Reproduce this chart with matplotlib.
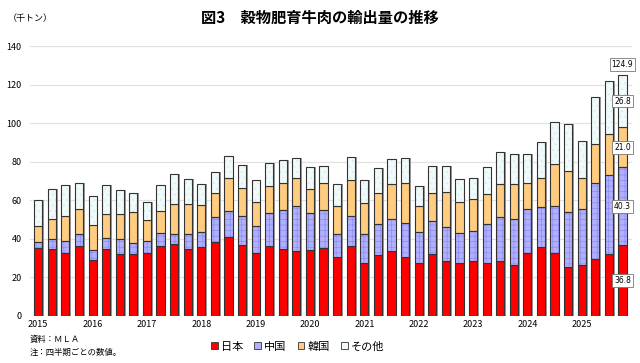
import numpy as np
import matplotlib
matplotlib.use("Agg")
import matplotlib.pyplot as plt
from matplotlib.patches import Patch

plt.rcParams['font.family'] = ['Noto Sans CJK JP', 'DejaVu Sans']
plt.rcParams['hatch.linewidth'] = 0.5

# quarterly values, 2015 Q1 .. 2025 Q4 (thousand tonnes)
years = [str(y) for y in range(2015, 2026)]
japan = [35.5, 34.7, 32.8, 36.1, 28.8, 34.7, 32.1, 32.4, 32.8, 36.1, 37.6, 34.7,
         35.7, 38.6, 40.9, 36.9, 32.6, 36.1, 35.0, 33.5, 34.0, 35.5, 30.4, 36.2,
         27.5, 31.4, 33.5, 30.6, 27.5, 32.1, 28.3, 27.6, 28.5, 27.5, 28.3, 26.4,
         32.8, 35.7, 32.6, 25.3, 26.2, 29.8, 32.3, 36.8]
china = [3.0, 5.1, 6.3, 6.6, 5.2, 5.5, 7.6, 5.5, 6.3, 7.2, 5.0, 8.0,
         8.1, 12.9, 13.7, 14.9, 14.3, 17.5, 20.1, 23.7, 19.6, 19.6, 12.3, 15.8,
         15.2, 16.3, 17.0, 17.6, 16.3, 17.0, 17.9, 15.5, 15.6, 20.1, 22.9, 23.9,
         22.7, 21.0, 24.7, 28.5, 29.2, 39.4, 40.7, 40.3]
korea = [8.0, 10.5, 12.9, 12.9, 13.4, 12.5, 13.3, 16.3, 10.5, 11.3, 15.6, 15.5,
         13.9, 12.4, 16.8, 14.6, 12.3, 13.9, 13.9, 14.4, 12.5, 14.1, 14.5, 18.7,
         16.0, 16.2, 18.2, 20.8, 13.4, 14.8, 18.3, 16.1, 16.8, 15.9, 17.5, 18.4,
         13.7, 15.1, 21.5, 21.4, 16.1, 19.9, 21.3, 21.0]
other = [13.8, 15.5, 16.0, 13.4, 14.6, 15.3, 12.4, 9.8, 9.6, 13.4, 15.4, 12.7,
         10.8, 10.6, 11.5, 11.9, 11.4, 11.8, 11.9, 10.6, 11.2, 8.6, 11.3, 11.7,
         11.9, 12.7, 12.7, 12.9, 10.1, 13.7, 13.4, 12.0, 10.9, 13.9, 16.5, 15.4,
         14.6, 18.7, 22.0, 24.6, 19.2, 24.4, 27.5, 26.8]
last_total = 124.9

series = [("日本", japan, '#ff0000', None, None),
          ("中国", china, '#b0b0ff', '+++', '#8c8cf4'),
          ("韓国", korea, '#ffcc80', None, None),
          ("その他", other, '#f0fafa', '...', '#d4ecec')]

x = np.arange(len(japan))
w = 0.6
edge = '#333333'

fig = plt.figure(figsize=(6.4, 3.63), dpi=100)
ax = fig.add_axes([0.047, 0.1295, 0.9405, 0.7435])

totals = np.sum([japan, china, korea, other], axis=0)
# grey shadow at the right of each bar
ax.bar(x + 0.13, totals, w, color='#9a9a9a', linewidth=0, zorder=2)

bottom = np.zeros(len(x))
for name, vals, fc, hatch, hc in series:
    vals = np.array(vals)
    if hatch:
        ax.bar(x, vals, w, bottom=bottom, color=fc, edgecolor=hc, hatch=hatch,
               linewidth=0, zorder=3)
        ax.bar(x, vals, w, bottom=bottom, fill=False, edgecolor=edge,
               linewidth=0.8, zorder=4)
    else:
        ax.bar(x, vals, w, bottom=bottom, color=fc, edgecolor=edge,
               linewidth=0.8, zorder=3)
    bottom += vals

# value labels on the last bar
box = dict(boxstyle='square,pad=0.25', facecolor='white', edgecolor='#777777', linewidth=0.6)
i = len(x) - 1
b = 0
for name, vals, fc, hatch, hc in series:
    ax.text(x[i], b + vals[i] / 2, f"{vals[i]:.1f}", ha='center', va='center',
            fontsize=5.5, bbox=box, zorder=6, family='DejaVu Sans')
    b += vals[i]
ax.text(x[i], last_total + 5.7, f"{last_total:.1f}", ha='center', va='center',
        fontsize=5.5, bbox=box, zorder=6, family='DejaVu Sans')

ax.set_xlim(-0.6, 43.7)
ax.set_ylim(0, 140)
ax.set_yticks(range(0, 141, 20))
ax.set_xticks(x[::4])
ax.set_xticklabels(years)
ax.tick_params(axis='both', length=0, labelsize=6.5, pad=3)
ax.tick_params(axis='y', pad=6)
ax.yaxis.grid(True, color='#e2e2e2', linewidth=0.9, zorder=0)
ax.set_axisbelow(True)
for s in ax.spines.values():
    s.set_visible(False)

fig.text(0.5, 0.95, "図3　穀物肥育牛肉の輸出量の推移", ha='center', va='center',
         fontsize=11, fontweight='bold')
fig.text(0.012, 0.95, "（千トン）", ha='left', va='center', fontsize=6.5)
fig.text(0.047, 0.065, "資料：ＭＬＡ", ha='left', va='center', fontsize=6)
fig.text(0.047, 0.03, "注：四半期ごとの数値。", ha='left', va='center', fontsize=6)

handles = [Patch(facecolor=fc, edgecolor=edge, linewidth=0.6) for _, _, fc, _, _ in series]
fig.legend(handles, [s[0] for s in series], loc='center', bbox_to_anchor=(0.465, 0.045),
           ncol=4, frameon=False, fontsize=8, handlelength=0.6, handleheight=0.6,
           handletextpad=0.3, columnspacing=1.0)

fig.savefig("out.png", dpi=100)
